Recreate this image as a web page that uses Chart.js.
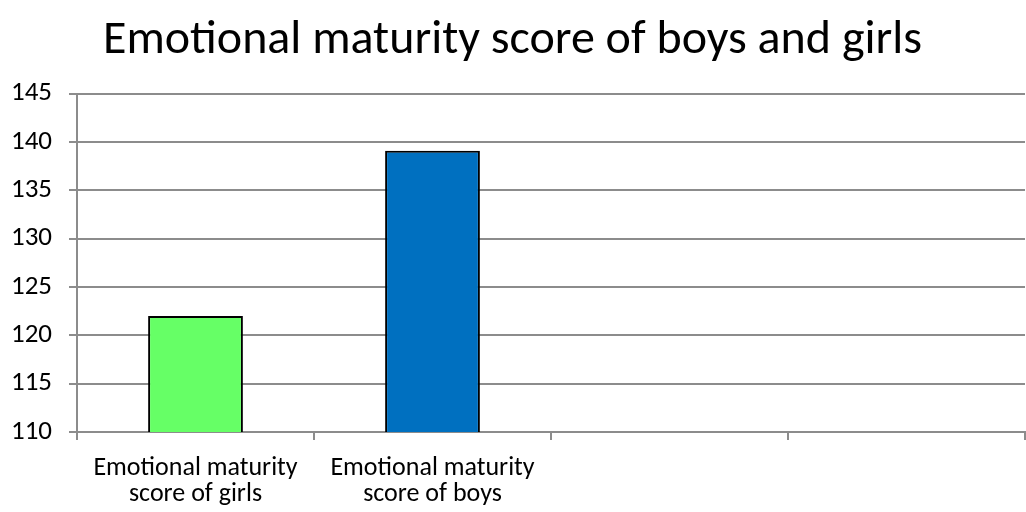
<!DOCTYPE html>
<html>
<head>
<meta charset="utf-8">
<script src="https://cdn.jsdelivr.net/npm/chart.js@4"></script>
<style>
  html, body { margin: 0; padding: 0; background: #fff; }
  #wrap { width: 1026px; height: 512px; }
</style>
</head>
<body>
<div id="wrap"><canvas id="chart" width="1026" height="512"></canvas></div>
<script>
// categories (last two are empty slots in the original)
const categories = [
    ["Emotional maturity", "score of girls"],
    ["Emotional maturity", "score of boys"],
    "",
    "",
];
const scores = [122, 139.1, null, null];
const barColors = ["#66FF66", "#0070C0", "#66FF66", "#0070C0"];
const yTicks = [110, 115, 120, 125, 130, 135, 140, 145];

const gridGray = "#8c8c8c";
const font = "Calibri, Carlito, 'Open Sans', sans-serif";

new Chart(document.getElementById("chart"), {
    type: "bar",
    data: {
        labels: categories,
        datasets: [
            {
                data: scores,
                backgroundColor: barColors,
                borderColor: "#000",
                borderWidth: 2,
                borderSkipped: "bottom",
                categoryPercentage: 0.4,
                barPercentage: 1,
            },
        ],
    },
    options: {
        responsive: false,
        animation: false,
        layout: { padding: { left: 0, right: 1, top: 0, bottom: 0 } },
        plugins: {
            legend: { display: false },
            tooltip: { enabled: false },
            title: {
                display: true,
                text: "Emotional maturity score of boys and girls",
                color: "#000",
                font: { family: font, size: 48, weight: "normal" },
                padding: { top: 12, bottom: 24 },
            },
        },
        scales: {
            x: {
                afterFit: (scale) => {
                    scale.height = 80;
                },
                grid: {
                    offset: true,
                    drawOnChartArea: false,
                    drawTicks: true,
                    tickLength: 8,
                    color: gridGray,
                    lineWidth: 2,
                },
                border: { color: gridGray, width: 2 },
                ticks: {
                    color: "#000",
                    font: { family: font, size: 26, lineHeight: 1.02 },
                    maxRotation: 0,
                    autoSkip: false,
                    padding: 15,
                },
            },
            y: {
                afterFit: (scale) => {
                    scale.width = 77;
                },
                min: yTicks[0],
                max: yTicks[yTicks.length - 1],
                afterBuildTicks: (axis) => {
                    axis.ticks = yTicks.map((v) => ({ value: v }));
                },
                grid: {
                    color: gridGray,
                    lineWidth: 2,
                    tickLength: 8,
                },
                border: { color: gridGray, width: 2 },
                ticks: {
                    color: "#000",
                    font: { family: font, size: 27 },
                    padding: 17,
                },
            },
        },
    },
});
</script>
</body>
</html>
